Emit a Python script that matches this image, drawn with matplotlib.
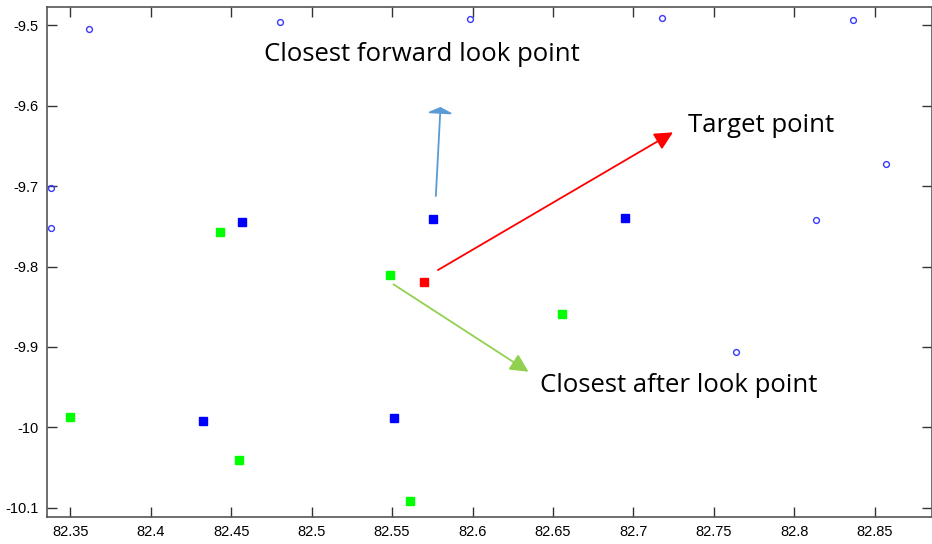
import matplotlib
matplotlib.use("Agg")
import matplotlib.pyplot as plt

# ---- data ----
circle_x = [82.3616, 82.4804, 82.5986, 82.7178, 82.8366, 82.3380, 82.3380, 82.8571, 82.8136, 82.7638]
circle_y = [-9.5046, -9.4953, -9.4922, -9.4909, -9.4930, -9.7024, -9.7522, -9.6725, -9.7422, -9.9064]

blue_x = [82.4570, 82.5756, 82.6945, 82.4325, 82.5515]
blue_y = [-9.7447, -9.7409, -9.7397, -9.9918, -9.9888]

green_x = [82.4431, 82.5486, 82.6556, 82.3498, 82.4551, 82.5614]
green_y = [-9.7575, -9.8106, -9.8591, -9.9872, -10.0407, -10.0913]

target_x = [82.5701]
target_y = [-9.8193]

xticks = [82.35, 82.4, 82.45, 82.5, 82.55, 82.6, 82.65, 82.7, 82.75, 82.8, 82.85]
xticklabels = ["82.35", "82.4", "82.45", "82.5", "82.55", "82.6", "82.65", "82.7", "82.75", "82.8", "82.85"]
yticks = [-10.1, -10.0, -9.9, -9.8, -9.7, -9.6, -9.5]
yticklabels = ["-10.1", "-10", "-9.9", "-9.8", "-9.7", "-9.6", "-9.5"]

# annotation arrows (tail, tip) and labels
forward_arrow = [(82.5772, -9.7123), (82.5801, -9.6016)]
target_arrow = [(82.5785, -9.8044), (82.7246, -9.6331)]
after_arrow = [(82.5509, -9.8222), (82.6348, -9.9309)]
labels = ["Closest forward look point", "Target point", "Closest after look point"]
label_pos = [(82.4705, -9.5357), (82.7340, -9.6241), (82.6420, -9.9475)]

fig = plt.figure(figsize=(9.32, 5.44), dpi=100)
ax = fig.add_axes([0.0504, 0.0496, 0.9491, 0.9384])

ax.plot(circle_x, circle_y, linestyle="none", marker="o", markersize=4.2,
        markerfacecolor="none", markeredgecolor="#3a3aff", markeredgewidth=1.0, clip_on=True)
ax.plot(blue_x, blue_y, linestyle="none", marker="s", markersize=5.5,
        markerfacecolor="#0000ff", markeredgecolor="#0000ff")
ax.plot(green_x, green_y, linestyle="none", marker="s", markersize=5.5,
        markerfacecolor="#00ff00", markeredgecolor="#00ff00")
ax.plot(target_x, target_y, linestyle="none", marker="s", markersize=5.5,
        markerfacecolor="#ff0000", markeredgecolor="#ff0000")

ax.set_xlim(82.3355, 82.8853)
ax.set_ylim(-10.1116, -9.4766)
ax.set_xticks(xticks)
ax.set_xticklabels(xticklabels)
ax.set_yticks(yticks)
ax.set_yticklabels(yticklabels)

for s in ax.spines.values():
    s.set_color("#555555")
    s.set_linewidth(1.2)
ax.tick_params(direction="in", length=7, width=1, color="#333333",
               top=True, right=True, labelsize=10.5, labelcolor="black", pad=6)
for lab in ax.get_xticklabels() + ax.get_yticklabels():
    lab.set_family("Liberation Sans")

def arrow(pts, color, style):
    ax.annotate("", xy=pts[1], xytext=pts[0], xycoords="data", textcoords="data",
                arrowprops=dict(arrowstyle=style, color=color, lw=1.3,
                                shrinkA=0, shrinkB=0))

arrow(forward_arrow, "#5b9bd5", "-|>,head_length=0.35,head_width=0.75")
arrow(target_arrow, "#ff0000", "-|>,head_length=1.1,head_width=0.55")
arrow(after_arrow, "#92d050", "-|>,head_length=1.1,head_width=0.55")

for txt, (x, y) in zip(labels, label_pos):
    ax.text(x, y, txt, fontsize=18.5, family="Open Sans", ha="left", va="center", color="black")

fig.savefig("out.png", dpi=100)
